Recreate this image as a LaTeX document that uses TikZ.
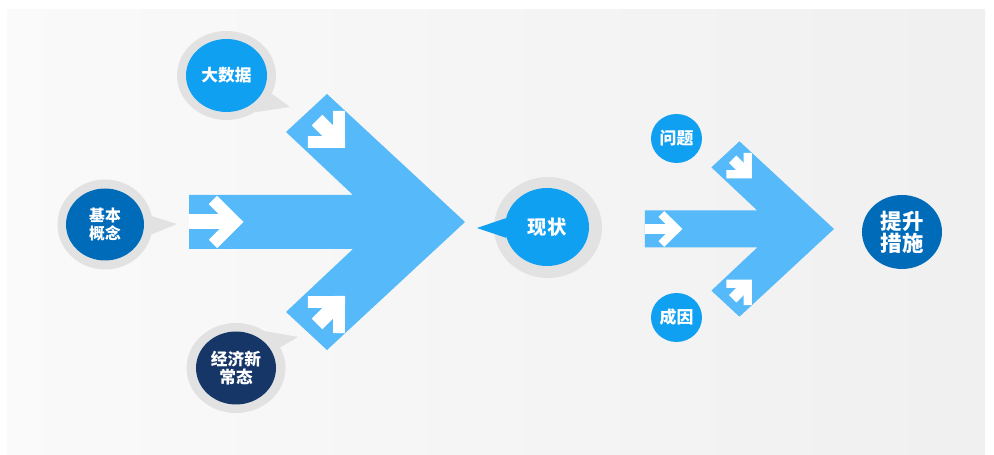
\documentclass[tikz,border=0pt]{standalone}
\usepackage{fontspec}
\usepackage{xcolor}
\usepackage{tikz}
\usetikzlibrary{shapes.geometric}
\newfontfamily\cjk{Noto Sans CJK SC}
\definecolor{arrowblue}{RGB}{86,186,250}
\definecolor{brightblue}{RGB}{16,160,242}
\definecolor{midblue}{RGB}{0,108,185}
\definecolor{navyblue}{RGB}{22,54,104}
\definecolor{ringgray}{RGB}{226,226,226}
\tikzset{
  ring/.style={ellipse,fill=ringgray,inner sep=0pt},
  bubble/.style={ellipse,inner sep=0pt,text=white,align=center},
  txt/.style 2 args={font=\cjk\bfseries\fontsize{#1}{#2}\selectfont},
  pics/markarrow/.style={code={
    \fill[white](8.5,0)--(-17.8,26.2)--(-26.2,17.8)--(-8.5,0)--(-26.2,-17.8)--(-17.8,-26.2)--cycle;
    \fill[white](-#1,-7.5)rectangle(-4,7.5);}},
  pics/bigarrow/.style={code={
    \fill[arrowblue](-276,27)--(-112,27)--(-179,90)--(-138,128)--(0,0)--(-138,-128)--(-179,-90)--(-112,-27)--(-276,-27)--cycle;
    \pic[transform shape]at(-230,0){markarrow=46};
    \pic[transform shape,rotate=-45]at(-126,80){markarrow=31};
    \pic[transform shape,rotate=45]at(-126,-80){markarrow=31};}}
}
\begin{document}
\begin{tikzpicture}[x=0.02cm,y=0.02cm]
\useasboundingbox(0,0)rectangle(994,455);
\fill[white](0,0)rectangle(994,455);
\shade[left color=white!98!black,right color=white!94!black](7,0)rectangle(985,445);
% arrows
\pic at(465,233){bigarrow};
\pic[scale=0.685]at(834,226){bigarrow};
% left bubbles
\node[ring,minimum width=1.98cm,minimum height=1.78cm](dsjring)at(226.5,379.5){};
\coordinate(dsjtip)at(290,348);
\fill[ringgray](dsjring.-22)--(dsjtip)--(dsjring.-52)--cycle;
\node[bubble,fill=brightblue,minimum width=1.62cm,minimum height=1.46cm,txt={9.5}{11}](dsj)at(dsjring){大数据};
\node[ring,minimum width=1.9cm,minimum height=1.8cm](jbring)at(105,230.5){};
\coordinate(jbtip)at(177,231);
\fill[ringgray](jbring.10)--(jbtip)--(jbring.-12)--cycle;
\node[bubble,fill=midblue,minimum width=1.56cm,minimum height=1.44cm,txt={9}{10}](jb)at(jbring){基本\\概念};
\node[ring,minimum width=1.98cm,minimum height=1.8cm](jjring)at(236,87){};
\coordinate(jjtip)at(298,118);
\fill[ringgray](jjring.25)--(jjtip)--(jjring.52)--cycle;
\node[bubble,fill=navyblue,minimum width=1.6cm,minimum height=1.46cm,txt={9.5}{10}](jj)at(jjring){经济新\\常态};
% middle
\node[ring,minimum width=2.16cm,minimum height=2.02cm](xzring)at(548,227.5){};
\node[bubble,fill=brightblue,minimum width=1.68cm,minimum height=1.56cm,txt={11}{12}](xz)at(547,228){现状};
\coordinate(xztip)at(477,227);
\fill[brightblue](xz.168)--(xztip)--(xz.195)--cycle;
% right
\node[bubble,fill=brightblue,minimum width=1.02cm,minimum height=0.98cm,txt={9.6}{11}](wt)at(676.5,316.5){问题};
\node[bubble,fill=brightblue,minimum width=1.02cm,minimum height=0.98cm,txt={9.6}{11}](cy)at(676.5,137.5){成因};
\node[bubble,fill=midblue,minimum width=1.6cm,minimum height=1.48cm,txt={12.2}{12.5}](ts)at(902,223){提升\\措施};
\end{tikzpicture}
\end{document}
